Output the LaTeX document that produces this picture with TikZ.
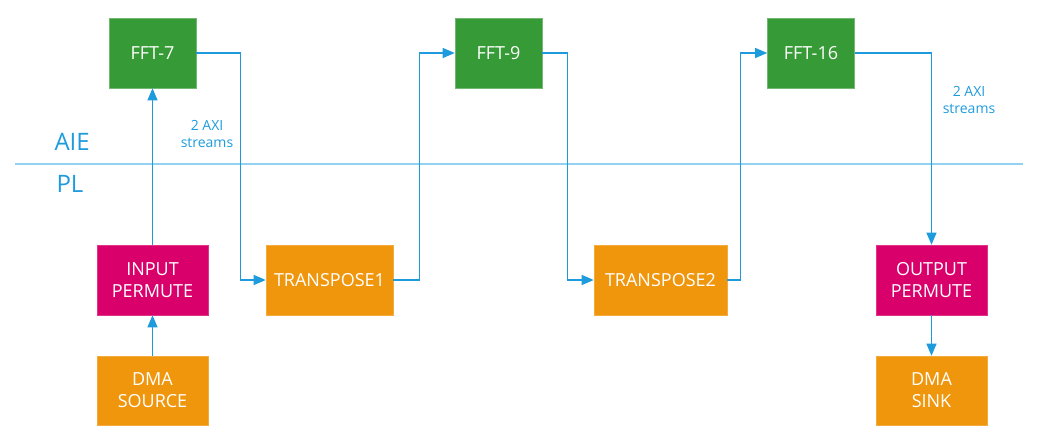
\documentclass[tikz,border=0pt]{standalone}
\usepackage{fontspec}
\setmainfont{Open Sans}
\usetikzlibrary{arrows.meta}
\definecolor{fftgreen}{RGB}{54,154,54}
\definecolor{permred}{RGB}{217,0,108}
\definecolor{dmaorange}{RGB}{240,150,12}
\definecolor{linkblue}{RGB}{30,155,220}
\definecolor{sepblue}{RGB}{145,210,240}
\begin{document}
\begin{tikzpicture}[x=1pt, y=-1pt,
  blk/.style={rectangle, text=white, align=center, inner sep=0pt,
    minimum height=70pt, font=\fontsize{18}{22}\selectfont},
  fftb/.style={blk, fill=fftgreen, draw=fftgreen!70!white, line width=0.6pt, minimum width=87pt},
  permb/.style={blk, fill=permred, draw=permred!80!white, line width=0.6pt, minimum width=111pt},
  dmab/.style={blk, fill=dmaorange, draw=dmaorange!80!white, line width=0.6pt, minimum width=111pt},
  conn/.style={draw=linkblue, line width=1.2pt, -{Triangle[length=12pt,width=10pt]}},
  lbl/.style={text=linkblue, align=center, font=\fontsize{14}{17}\selectfont}]
  \useasboundingbox (0,0) rectangle (1042,447);

  % AIE / PL split
  \draw[sepblue, line width=2pt] (15,164) -- (1023,164);
  \node[text=linkblue, font=\fontsize{24}{28}\selectfont, anchor=west] (aie) at (51,142) {AIE};
  \node[text=linkblue, font=\fontsize{24}{28}\selectfont, anchor=west] (pl) at (53,184) {PL};

  \node[fftb] (f7) at (152.5,53) {FFT-7};
  \node[fftb] (f9) at (498.5,53) {FFT-9};
  \node[fftb] (f16) at (811,53) {FFT-16};

  \node[permb] (ip) at (152.5,280) {INPUT\\PERMUTE};
  \node[dmab, minimum width=127pt] (t1) at (329.5,280) {TRANSPOSE1};
  \node[dmab, minimum width=133pt] (t2) at (660.5,280) {TRANSPOSE2};
  \node[permb] (op) at (931.5,280) {OUTPUT\\PERMUTE};

  \node[dmab, minimum height=69pt] (src) at (152.5,390.5) {DMA\\SOURCE};
  \node[dmab, minimum height=69pt] (snk) at (931.5,390.5) {DMA\\SINK};

  \node[lbl] (s1) at (207,134) {2 AXI\\streams};
  \node[lbl] (s2) at (969,100) {2 AXI\\streams};

  \draw[conn] (src) -- (ip);
  \draw[conn] (ip) -- (f7);
  \draw[conn] (f7.east) -- ++(44,0) |- (t1.west);
  \draw[conn] (t1.east) -- ++(26,0) |- (f9.west);
  \draw[conn] (f9.east) -- ++(25,0) |- (t2.west);
  \draw[conn] (t2.east) -- ++(13,0) |- (f16.west);
  \draw[conn] (f16.east) -| (op.north);
  \draw[conn] (op) -- (snk);
\end{tikzpicture}
\end{document}
